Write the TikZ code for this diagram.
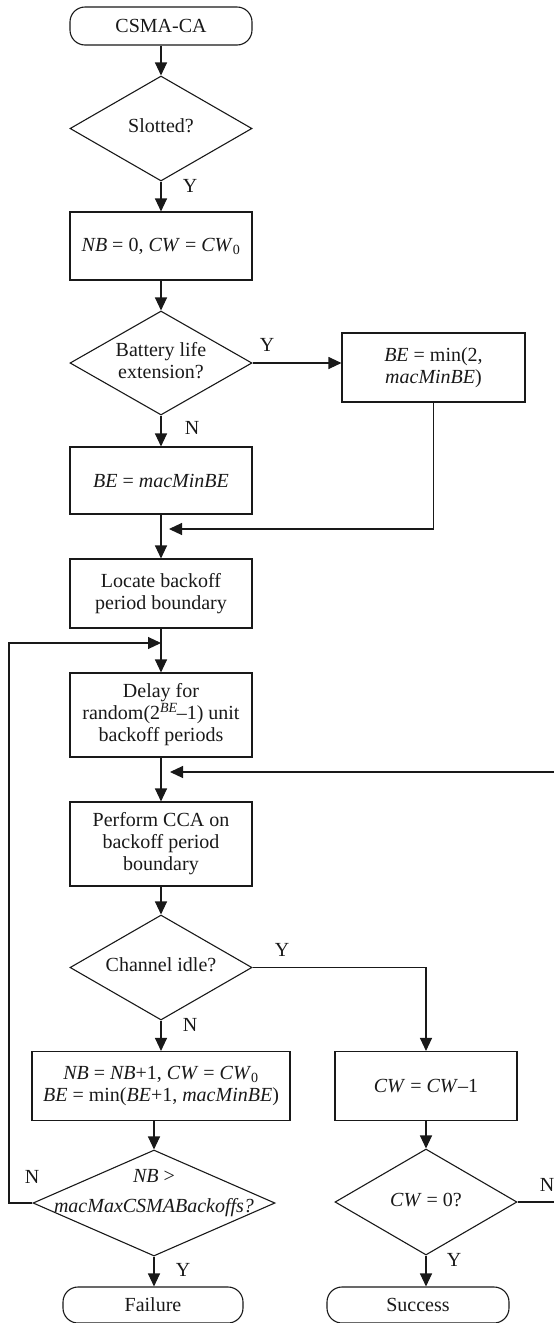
\documentclass[tikz,border=0pt]{standalone}
\usepackage{fontspec}
\setmainfont{Liberation Serif}
\usetikzlibrary{arrows.meta,shapes.geometric}
\newcommand{\zwtext}[1]{\makebox[0pt]{\begin{tabular}{@{}c@{}}#1\end{tabular}}}
\begin{document}
\begin{tikzpicture}[x=1pt,y=-1pt,
  line width=1.1pt,
  every node/.style={font=\fontsize{20}{22}\selectfont, inner sep=0pt, text=black!90},
  proc/.style={draw=black!90, rectangle, minimum width=182pt, align=center},
  term/.style={draw=black!90, rectangle, rounded corners=15pt, minimum width=182pt, minimum height=38pt},
  dec/.style={draw=black!90, diamond, minimum width=182pt, minimum height=105pt},
  lab/.style={},
  arr/.style={draw=black!90, -{Triangle[length=13pt,width=12pt]}},
  ln/.style={draw=black!90},
]
\useasboundingbox (0,0) rectangle (554,1323);

% nodes
\node[term] (start) at (161,26) {CSMA-CA};
\node[dec] (slot) at (161,128.5) {\zwtext{Slotted?}};
\node[proc, minimum height=68pt] (nb0) at (161,246) {\textit{NB} = 0, \textit{CW} = \textit{CW}\textsubscript{0}};
\node[dec, minimum height=104pt] (bat) at (161,363) {\zwtext{Battery life\\extension?}};
\node[proc, minimum width=183pt, minimum height=69pt] (bemin) at (433.5,367.5) {\textit{BE} = min(2,\\\textit{macMinBE})};
\node[proc, minimum height=67pt] (bemac) at (161,480.5) {\textit{BE} = \textit{macMinBE}};
\node[proc, minimum height=69pt] (locate) at (161,593.5) {Locate backoff\\period boundary};
\node[proc, minimum height=84pt] (delay) at (161,715) {Delay for\\random(2\textsuperscript{\textit{BE}}\kern-1pt–1) unit\\backoff periods};
\node[proc, minimum height=84pt] (perform) at (161,844) {Perform CCA on\\backoff period\\boundary};
\node[dec] (chan) at (161,967.5) {\zwtext{Channel idle?}};
\node[proc, minimum width=258pt, minimum height=69pt] (nbbox) at (161,1086) {\textit{NB} = \textit{NB}+1, \textit{CW} = \textit{CW}\textsubscript{0}\\\textit{BE} = min(\textit{BE}+1, \textit{macMinBE})};
\node[proc, minimum height=69pt] (cwbox) at (426,1086) {\textit{CW} = \textit{CW}–1};
\node[dec, minimum width=242pt, minimum height=106pt] (nbq) at (154,1203) {};
\node (nbqt) at (154,1193) {\begin{tabular}{@{}c@{}}\textit{NB} >\\[8pt]\textit{macMaxCSMABackoffs?}\end{tabular}};
\node[dec, minimum height=106pt] (cwq) at (426,1202) {\zwtext{\textit{CW} = 0?}};
\node[term, minimum width=180pt, minimum height=36pt] (fail) at (153,1305) {Failure};
\node[term, minimum height=36pt] (succ) at (418,1305) {Success};

% labels
\node[lab] (ly1) at (190,186) {Y};
\node[lab] (ly2) at (267,345) {Y};
\node[lab] (ln2) at (192,428) {N};
\node[lab] (ly3) at (282,950) {Y};
\node[lab] (ln3) at (190,1025) {N};
\node[lab] (ln4) at (32,1177) {N};
\node[lab] (ly4) at (183,1270) {Y};
\node[lab] (ln5) at (547,1185) {N};
\node[lab] (ly5) at (454,1260) {Y};

% coordinates
\coordinate (j1) at (169,529);
\coordinate (lfbc) at (9,643);
\coordinate (lfb) at (161,643);
\coordinate (rfbc) at (558,772);
\coordinate (rfb) at (170,772);

% connectors
\draw[arr] (start.south) -- (slot.north);
\draw[arr] (slot.south) -- (nb0.north);
\draw[arr] (nb0.south) -- (bat.north);
\draw[arr] (bat.east) -- (bat.east -| bemin.west);
\draw[arr] (bat.south) -- (bemac.north);
\draw[arr] (bemin.south) -- (bemin.south |- j1) -- (j1);
\draw[arr] (bemac.south) -- (locate.north);
\draw[arr] (locate.south) -- (delay.north);
\draw[arr] (delay.south) -- (perform.north);
\draw[arr] (perform.south) -- (chan.north);
\draw[arr] (chan.south) -- (nbbox.north);
\draw[arr] (chan.east) -- (chan.east -| cwbox.north) -- (cwbox.north);
\draw[arr] (nbq.north |- nbbox.south) -- (nbq.north);
\draw[arr] (cwbox.south) -- (cwq.north);
\draw[arr] (nbq.south) -- (nbq.south |- fail.north);
\draw[arr] (cwq.south) -- (cwq.south |- succ.north);
\draw[arr] (nbq.west) -- (nbq.west -| lfbc) -- (lfbc) -- (lfb);
\draw[arr] (cwq.east) -- (cwq.east -| rfbc) -- (rfbc) -- (rfb);
\end{tikzpicture}
\end{document}
